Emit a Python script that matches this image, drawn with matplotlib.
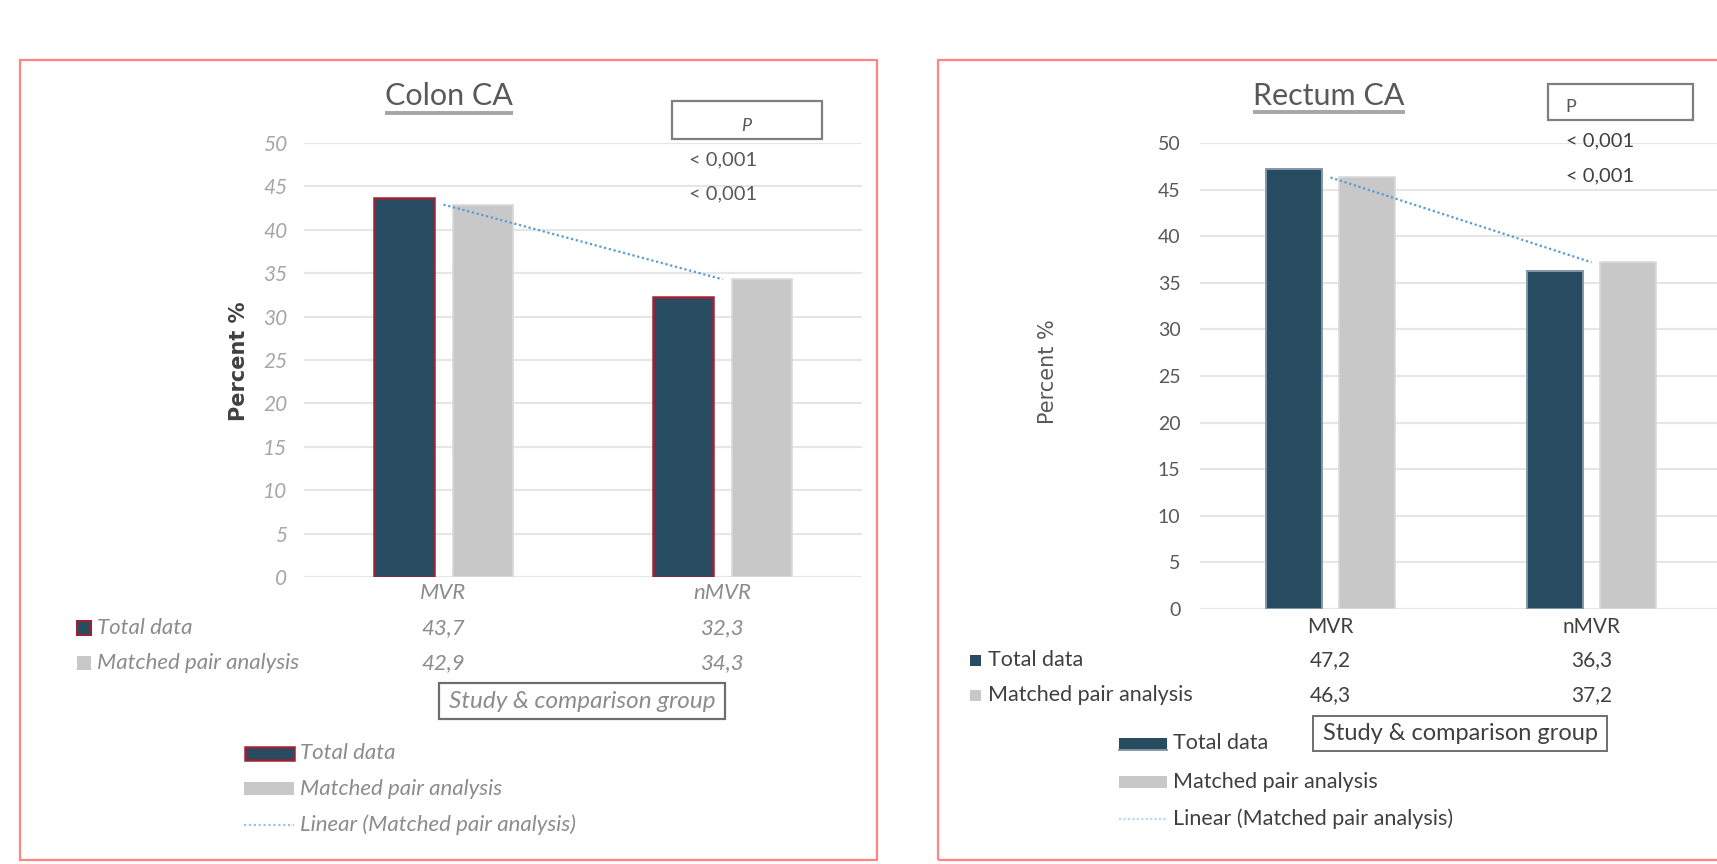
import matplotlib
matplotlib.use("Agg")
import matplotlib.pyplot as plt
from matplotlib.patches import Rectangle
from matplotlib.lines import Line2D
import matplotlib.transforms as mtransforms

# ---- data ----
categories = ["MVR", "nMVR"]
series_names = ["Total data", "Matched pair analysis"]
trend_name = "Linear (Matched pair analysis)"
colon_total = [43.7, 32.3]
colon_matched = [42.9, 34.3]
rectum_total = [47.2, 36.3]
rectum_matched = [46.3, 37.2]
p_values = ["< 0,001", "< 0,001"]
y_ticks = list(range(0, 51, 5))
x_title = "Study & comparison group"
y_title = "Percent %"

W, H = 1717, 864
fig = plt.figure(figsize=(W / 100, H / 100), dpi=100)
fig.patch.set_facecolor("white")

DARK = "#274B61"
GREY = "#C8C8C8"
GREY_EDGE = "#D9D9D9"
TREND = "#5B9BD5"
FRAME = "#FF8484"
FONT = ["Lato", "DejaVu Sans"]


def fx(x):
    return x / W


def fy(y):
    return 1 - y / H


def ftext(x, y, s, **kw):
    kw.setdefault("family", FONT)
    return fig.text(fx(x), fy(y), s, **kw)


def frect(x0, y0, x1, y1, **kw):
    r = Rectangle((fx(x0), fy(y1)), fx(x1) - fx(x0), fy(y0) - fy(y1),
                  transform=fig.transFigure, **kw)
    fig.add_artist(r)
    return r


def fline(x0, y0, x1, y1, **kw):
    ln = Line2D([fx(x0), fx(x1)], [fy(y0), fy(y1)], transform=fig.transFigure, **kw)
    fig.add_artist(ln)
    return ln


def fmt(v):
    return f"{v:.1f}".replace(".", ",")


def make_axes(x0, x1, ytop, ybot):
    ax = fig.add_axes([fx(x0), fy(ybot), fx(x1) - fx(x0), fy(ytop) - fy(ybot)])
    ax.set_xlim(-0.5, 1.5)
    ax.set_ylim(0, 50)
    ax.set_yticks(y_ticks)
    ax.set_xticks([])
    for s in ax.spines.values():
        s.set_visible(False)
    ax.set_axisbelow(True)
    ax.yaxis.grid(True, color="#E6E6E6", linewidth=1.5)
    ax.tick_params(axis="y", length=0)
    ax.patch.set_alpha(0)
    return ax


def draw_bars(ax, total, matched, dark_edge, dark_lw):
    xs = range(len(categories))
    ax.bar([x - 0.14 for x in xs], total, width=0.215, color=DARK,
           edgecolor=dark_edge, linewidth=dark_lw, zorder=2)
    ax.bar([x + 0.14 for x in xs], matched, width=0.215, color=GREY,
           edgecolor=GREY_EDGE, linewidth=1.2, zorder=2)
    ax.plot(list(xs), matched, linestyle=(0, (1, 1.2)), color=TREND,
            linewidth=1.6, zorder=3)


def underline(t, y, color="#A6A6A6"):
    fig.canvas.draw()
    bb = t.get_window_extent().transformed(fig.transFigure.inverted())
    fig.add_artist(Line2D([bb.x0, bb.x1], [fy(y), fy(y)], transform=fig.transFigure,
                          color=color, linewidth=2.8, solid_capstyle="butt"))


# ================= Colon CA =================
LGREY = "#8C8C8C"
frect(20, 60, 877, 860, facecolor="none", edgecolor=FRAME, linewidth=1.6)
ax1 = make_axes(304, 862, 143, 577)
draw_bars(ax1, colon_total, colon_matched, "#9B2335", 1.8)
for lab in ax1.get_yticklabels():
    lab.set_family(FONT)
    lab.set_style("italic")
    lab.set_fontsize(15)
    lab.set_color("#A6A6A6")
ax1.tick_params(axis="y", pad=12)

t1 = ftext(449, 96, "Colon CA", ha="center", va="center", fontsize=22, color="#595959")
frect(672, 101, 822, 139, facecolor="none", edgecolor="#7F7F7F", linewidth=1.6)
ftext(746, 126, "P", ha="center", va="center", fontsize=13, style="italic", color="#595959")
ftext(723, 160, p_values[0], ha="center", va="center", fontsize=14.5, color="#595959")
ftext(723, 194, p_values[1], ha="center", va="center", fontsize=14.5, color="#595959")
ftext(239, 361, y_title, ha="center", va="center", rotation=90, fontsize=15,
      fontweight="bold", color="#404040", family=["DejaVu Sans"])

tr1 = mtransforms.blended_transform_factory(ax1.transData, fig.transFigure)
for i, c in enumerate(categories):
    ax1.text(i, fy(593), c, transform=tr1, ha="center", va="center", fontsize=16,
             style="italic", color=LGREY, family=FONT)
    ax1.text(i, fy(628), fmt(colon_total[i]), transform=tr1, ha="center", va="center",
             fontsize=16, style="italic", color=LGREY, family=FONT)
    ax1.text(i, fy(663), fmt(colon_matched[i]), transform=tr1, ha="center", va="center",
             fontsize=16, style="italic", color=LGREY, family=FONT)

frect(77, 621, 91, 635, facecolor=DARK, edgecolor="#9B2335", linewidth=1.5)
frect(77, 656, 91, 670, facecolor=GREY, edgecolor="none")
ftext(97, 628, series_names[0], ha="left", va="center", fontsize=16, style="italic", color=LGREY)
ftext(97, 663, series_names[1], ha="left", va="center", fontsize=16, style="italic", color=LGREY)

frect(439, 683, 725, 719, facecolor="none", edgecolor="#6E6E6E", linewidth=1.6)
ftext(582, 701, x_title, ha="center", va="center", fontsize=17.5, style="italic", color=LGREY)

frect(245, 747, 294, 760, facecolor=DARK, edgecolor="#9B2335", linewidth=1.8)
frect(244, 782, 294, 795, facecolor=GREY, edgecolor="none")
fline(244, 825, 294, 825, color="#9DC3E6", linewidth=1.6, linestyle=(0, (1, 1.2)))
ftext(300, 753, series_names[0], ha="left", va="center", fontsize=16, style="italic", color=LGREY)
ftext(300, 789, series_names[1], ha="left", va="center", fontsize=16, style="italic", color=LGREY)
ftext(300, 825, trend_name, ha="left", va="center", fontsize=16, style="italic", color=LGREY)

# ================= Rectum CA =================
DGREY = "#404040"
frect(938, 60, 1760, 860, facecolor="none", edgecolor=FRAME, linewidth=1.6)
ax2 = make_axes(1200, 1722, 143, 609)
draw_bars(ax2, rectum_total, rectum_matched, "#8497A9", 1.4)
for lab in ax2.get_yticklabels():
    lab.set_family(FONT)
    lab.set_fontsize(14)
    lab.set_color("#595959")
ax2.tick_params(axis="y", pad=14)

t2 = ftext(1329, 96, "Rectum CA", ha="center", va="center", fontsize=22, color="#595959")
frect(1548, 84, 1693, 120, facecolor="none", edgecolor="#7F7F7F", linewidth=1.6)
ftext(1565, 107, "P", ha="left", va="center", fontsize=13, color="#595959")
ftext(1600, 141, p_values[0], ha="center", va="center", fontsize=14.5, color=DGREY)
ftext(1600, 176, p_values[1], ha="center", va="center", fontsize=14.5, color=DGREY)
ftext(1048, 372, y_title, ha="center", va="center", rotation=90, fontsize=15,
      color="#595959", family=["DejaVu Sans"])

tr2 = mtransforms.blended_transform_factory(ax2.transData, fig.transFigure)
for i, c in enumerate(categories):
    ax2.text(i, fy(627), c, transform=tr2, ha="center", va="center", fontsize=15,
             color=DGREY, family=FONT)
    ax2.text(i, fy(660), fmt(rectum_total[i]), transform=tr2, ha="center", va="center",
             fontsize=15, color=DGREY, family=FONT)
    ax2.text(i, fy(695), fmt(rectum_matched[i]), transform=tr2, ha="center", va="center",
             fontsize=15, color=DGREY, family=FONT)

frect(970, 655, 981, 666, facecolor=DARK, edgecolor="none")
frect(970, 690, 981, 701, facecolor=GREY, edgecolor="none")
ftext(988, 660, series_names[0], ha="left", va="center", fontsize=15.5, color=DGREY)
ftext(988, 695, series_names[1], ha="left", va="center", fontsize=15.5, color=DGREY)

frect(1313, 716, 1607, 751, facecolor="none", edgecolor="#6E6E6E", linewidth=1.4)
ftext(1460, 733, x_title, ha="center", va="center", fontsize=17, color=DGREY)

frect(1119, 738, 1167, 750, facecolor=DARK, edgecolor="none")
fline(1119, 750, 1167, 750, color="#8497A9", linewidth=1.4)
frect(1119, 776, 1167, 788, facecolor=GREY, edgecolor="none")
fline(1119, 819, 1167, 819, color="#BDD7EE", linewidth=1.6, linestyle=(0, (1, 1)))
ftext(1173, 743, series_names[0], ha="left", va="center", fontsize=15.5, color=DGREY)
ftext(1173, 782, series_names[1], ha="left", va="center", fontsize=15.5, color=DGREY)
ftext(1173, 819, trend_name, ha="left", va="center", fontsize=15.5, color=DGREY)

underline(t1, 113)
underline(t2, 112)

fig.savefig("out.png", dpi=100, facecolor="white")
